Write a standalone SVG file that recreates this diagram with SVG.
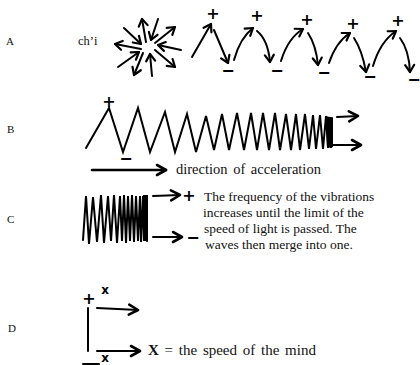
<svg xmlns="http://www.w3.org/2000/svg" width="420" height="365" viewBox="0 0 420 365">
<defs>
<marker id="ah" markerUnits="userSpaceOnUse" markerWidth="12" markerHeight="12" refX="8" refY="5" orient="auto" overflow="visible">
<path d="M1,0.5 L8,5 L1,9.5" fill="none" stroke="#000" stroke-width="2.2" stroke-linecap="round" stroke-linejoin="round"/>
</marker>
<marker id="ahb" markerUnits="userSpaceOnUse" markerWidth="14" markerHeight="14" refX="10" refY="6" orient="auto" overflow="visible">
<path d="M1,1 L10,6 L1,11" fill="none" stroke="#000" stroke-width="2.6" stroke-linecap="round" stroke-linejoin="round"/>
</marker>
<style>
.lbl{font-family:"Liberation Serif",serif;font-size:11px;fill:#111}
.txt{font-family:"Liberation Serif",serif;font-size:13.5px;fill:#111}
.sym{font-family:"DejaVu Sans",sans-serif;font-weight:bold;font-size:16px;fill:#000;text-anchor:middle}
.ln{fill:none;stroke:#000;stroke-width:2;stroke-linecap:round;stroke-linejoin:round}
.a{marker-end:url(#ah)}
.ab{marker-end:url(#ahb)}
.wave{fill:none;stroke:#000;stroke-width:2;stroke-linejoin:miter;stroke-linecap:round}
</style>
</defs>
<rect width="420" height="365" fill="#fff"/>

<g id="labels">
<text class="lbl" x="6" y="45">A</text>
<text class="lbl" x="7" y="133">B</text>
<text class="lbl" x="7" y="223">C</text>
<text class="lbl" x="8" y="332">D</text>
</g>

<g id="rowA">
<text class="txt" x="78" y="45" style="font-size:12.5px">ch’i</text>
<g id="chi-burst">
<path class="ln a" d="M141,49 L115,44"/>
<path class="ln a" d="M146,42 L142,19"/>
<path class="ln a" d="M155,43 L175,27"/>
<path class="ln a" d="M155,50 L175,67"/>
<path class="ln a" d="M143,53 L134,75"/>
<path class="ln a" d="M124,28 L141,44"/>
<path class="ln a" d="M158,19 L151,40"/>
<path class="ln a" d="M181,50 L158,45"/>
<path class="ln a" d="M152,76 L150,54"/>
<path class="ln a" d="M118,67 L139,52"/>
</g>
<g id="arcs">
<path class="ln a" d="M192,57 L211,24"/>
<path class="ln a" d="M214,30 L228,63"/>
<path class="ln a" d="M234,60 Q240,38 253,28"/>
<path class="ln a" d="M257,31 Q268,40 270,62"/>
<path class="ln a" d="M281,61 Q288,38 303,29"/>
<path class="ln a" d="M308,33 Q316,45 318,65"/>
<path class="ln a" d="M329,63 Q336,42 350,33"/>
<path class="ln a" d="M354,38 Q362,50 366,72"/>
<path class="ln a" d="M373,66 Q380,42 396,31"/>
<path class="ln a" d="M400,38 Q409,50 410,72"/>
</g>
<g id="signsA">
<text class="sym" x="213" y="19">+</text>
<text class="sym" x="228" y="76">−</text>
<text class="sym" x="257" y="21">+</text>
<text class="sym" x="277" y="76">−</text>
<text class="sym" x="307" y="25">+</text>
<text class="sym" x="324" y="78">−</text>
<text class="sym" x="353" y="29">+</text>
<text class="sym" x="370" y="82">−</text>
<text class="sym" x="398" y="26">+</text>
<text class="sym" x="414" y="85">−</text>
</g>
</g>

<g id="rowB">
<path class="wave" d="M86,148 L109,108 L123,152 L138,108 L150,152 L165,112 L175,152 L187,114 L196,152 L206,116 L214,150 L222,114 L229,150 L237,113 L244,150 L251,113 L257,150 L263,113 L269,150 L275,113 L280,150 L286,114 L291,150 L296,114 L300,150 L305,114 L309,149 L313,115 L316,149 L320,115 L323,149 L326,116 L328,148 L330,117 L331,148 L332,118"/>
<path d="M326,116 L333,118 L333,147 L327,148 Z" fill="#000"/>
<text class="sym" x="109" y="107">+</text>
<text class="sym" x="126" y="164">−</text>
<g id="B-arrows">
<path class="ln ab" d="M337,117 L358,116"/>
<path class="ln ab" d="M333,145 L361,145"/>
</g>
<path class="ln ab" d="M92,170 L166,170" style="stroke-width:2.6"/>
<text class="txt" x="176" y="174" style="font-size:14.5px;word-spacing:2px">direction of acceleration</text>
</g>

<g id="rowC">
<path class="wave" d="M83,240 L86,196 L89,244 L93,197 L97,242 L101,195 L104,243 L108,196 L111,241 L114,195 L117,243 L120,196 L122,241 L124,195 L126,243 L128,196 L130,241 L132,195 L134,242 L136,196 L138,241 L140,196 L141,242 L143,196 L144,241 L146,196 L147,241"/>
<rect x="143" y="195" width="5" height="46" fill="#000"/>
<path class="ln ab" d="M153,196 L180,195"/>
<path class="ln ab" d="M153,237 L182,237"/>
<text class="sym" x="189" y="201">+</text>
<text class="sym" x="193" y="243">−</text>
<text class="txt" x="204" y="201">The frequency of the vibrations</text>
<text class="txt" x="203" y="217">increases until the limit of the</text>
<text class="txt" x="204" y="233">speed of light is passed. The</text>
<text class="txt" x="205" y="249">waves then merge into one.</text>
</g>

<g id="rowD">
<path class="ln" d="M88,308 L88,351"/>
<text class="sym" x="89" y="304">+</text>
<text class="sym" x="105" y="294" style="font-size:12px">x</text>
<path class="ln ab" d="M97,308 L138,310"/>
<path class="ln ab" d="M97,351 L140,351"/>
<text class="sym" x="105" y="362" style="font-size:12px">x</text>
<path class="ln" d="M83,364 L99,364"/>
<text class="txt" x="148" y="355" style="font-size:15px;word-spacing:2px"><tspan style="font-weight:bold">X</tspan> = the speed of the mind</text>
</g>
</svg>
